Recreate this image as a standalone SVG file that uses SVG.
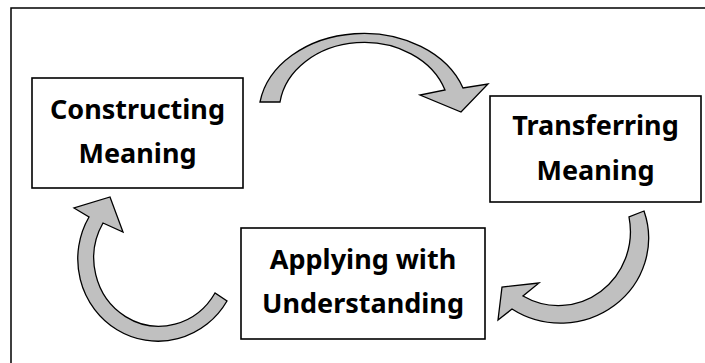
<svg xmlns="http://www.w3.org/2000/svg" width="705" height="363" viewBox="0 0 705 363">
<style>
.frame{fill:none;stroke:#000;stroke-width:1.5}
.box{fill:#fff;stroke:#000;stroke-width:1.6}
.lbl{font-family:"Noto Sans","Open Sans","Liberation Sans",sans-serif;font-weight:bold;font-size:27px;fill:#000;text-anchor:middle}
.arrow{fill:#c0c0c0;stroke:#000;stroke-width:1.3;stroke-linejoin:miter}
</style>
<rect width="705" height="363" fill="#fff"/>
<rect class="frame" x="11" y="8" width="720" height="380"/>
<g id="connectors">
<path id="arrow-top" class="arrow" d="M260,102 A105,81 0 0 1 463,88 L488,84 L461,112 L420,95 L445,90 A85,69 0 0 0 280,102 Z"/>
<path id="arrow-right" class="arrow" d="M644,211 A88,85 0 0 1 512,309 L498,320 L502,287 L539,283 L523,296 A72,74 0 0 0 629,217 Z"/>
<path id="arrow-left" class="arrow" d="M227,301 A80,82 0 0 1 89,217 L74,208 L110,197 L123,232 L103,223 A65,68 0 0 0 215,293 Z"/>
</g>
<g id="constructing">
<rect class="box" x="32" y="78" width="211" height="110"/>
<text class="lbl" x="137.5" y="119">Constructing</text>
<text class="lbl" x="137.5" y="163">Meaning</text>
</g>
<g id="transferring">
<rect class="box" x="490" y="96" width="211" height="106"/>
<text class="lbl" x="595.5" y="135">Transferring</text>
<text class="lbl" x="595.5" y="180">Meaning</text>
</g>
<g id="applying">
<rect class="box" x="241" y="228" width="244" height="111"/>
<text class="lbl" x="363" y="269">Applying with</text>
<text class="lbl" x="363" y="313">Understanding</text>
</g>
</svg>
